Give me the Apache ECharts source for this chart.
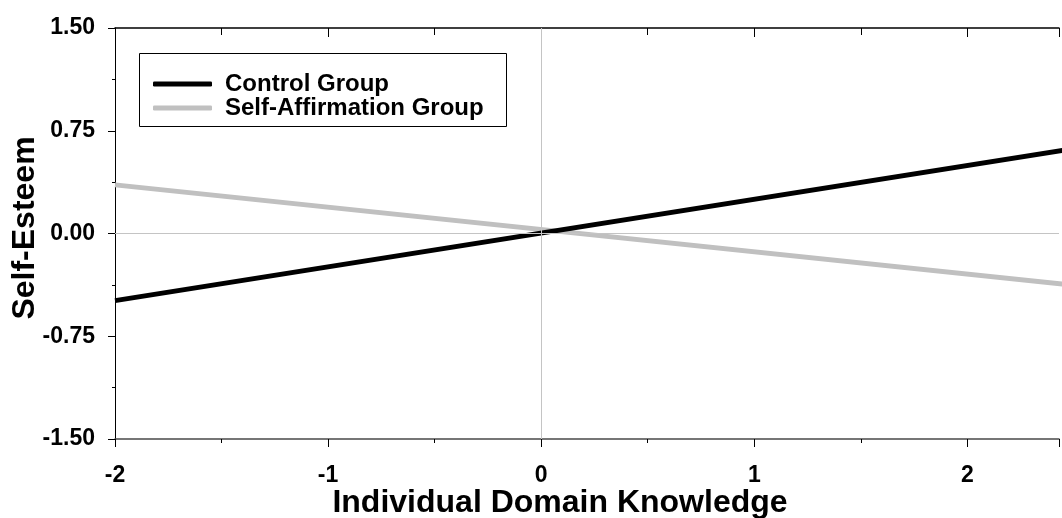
<!DOCTYPE html>
<html>
<head>
<meta charset="utf-8">
<title>Self-Esteem by Individual Domain Knowledge</title>
<script src="https://cdn.jsdelivr.net/npm/echarts@6/dist/echarts.min.js"></script>
<style>
  html, body { margin: 0; padding: 0; background: #fff; }
  #chart { width: 1062px; height: 518px; }
</style>
</head>
<body>
<div id="chart"></div>
<script>
// Simple-slope endpoints (predictor at -2 and +2.5)
const knowledge = [-2, 2.5];
const controlGroup = [-0.49, 0.62];
const selfAffirmationGroup = [0.355, -0.378];
const seriesNames = ['Control Group', 'Self-Affirmation Group'];
const xAxisTitle = 'Individual Domain Knowledge';
const yAxisTitle = 'Self-Esteem';

const FONT = '"Liberation Sans", Arial, Helvetica, sans-serif';
const X_MIN = -2;
const X_MAX = 2.43; // visible right edge of the plotting area

function pairs(xs, ys) {
  return xs.map((x, i) => [x, ys[i]]);
}

const chart = echarts.init(document.getElementById('chart'), null, { renderer: 'canvas' });

chart.setOption({
  animation: false,
  backgroundColor: '#fff',
  textStyle: { fontFamily: FONT },
  grid: { left: 115, top: 28, right: 0, bottom: 79, containLabel: false },
  xAxis: [
    {
      type: 'value', position: 'bottom', min: X_MIN, max: X_MAX, interval: 1,
      axisLine: { show: true, onZero: false, lineStyle: { color: '#4a4a4a', width: 1.5 } },
      axisTick: { show: true, inside: false, length: 8, lineStyle: { color: '#000', width: 1 } },
      minorTick: { show: true, splitNumber: 2, length: 4, lineStyle: { color: '#000', width: 1 } },
      axisLabel: {
        margin: 25, color: '#000', fontSize: 23, fontWeight: 'bold', fontFamily: FONT,
        formatter: v => (Number.isInteger(v) ? String(v) : '')
      },
      splitLine: { show: false }
    },
    {
      type: 'value', position: 'top', min: X_MIN, max: X_MAX, interval: 1,
      axisLine: { show: true, onZero: false, lineStyle: { color: '#000', width: 1.5 } },
      axisTick: { show: true, inside: true, length: 9, lineStyle: { color: '#000', width: 1 } },
      minorTick: { show: true, splitNumber: 2, length: 7, lineStyle: { color: '#000', width: 1 } },
      axisLabel: { show: false },
      splitLine: { show: false }
    }
  ],
  yAxis: {
    type: 'value', min: -1.5, max: 1.5, interval: 0.75,
    axisLine: { show: true, onZero: false, lineStyle: { color: '#000', width: 1 } },
    axisTick: { show: true, inside: false, length: 7, lineStyle: { color: '#000', width: 1 } },
    minorTick: { show: true, splitNumber: 2, length: 3, lineStyle: { color: '#000', width: 1 } },
    axisLabel: {
      margin: 20, color: '#000', fontSize: 23, fontWeight: 'bold', fontFamily: FONT,
      formatter: v => v.toFixed(2)
    },
    splitLine: { show: false }
  },
  legend: {
    data: seriesNames.map(name => ({ name, icon: 'roundRect' })),
    orient: 'vertical',
    left: 153, top: 72,
    padding: 0,
    itemGap: 0,
    itemWidth: 59,
    itemHeight: 5,
    selectedMode: false,
    textStyle: {
      color: '#000', fontSize: 24, fontWeight: 'bold', fontFamily: FONT,
      lineHeight: 23, padding: [0, 0, 0, 8]
    }
  },
  graphic: [
    {
      type: 'rect', left: 139, top: 53, z: 10, silent: true,
      shape: { width: 367, height: 73 },
      style: { fill: 'rgba(255,255,255,0)', stroke: '#000', lineWidth: 1 }
    },
    {
      type: 'text', x: 560, y: 503, z: 10, silent: true,
      style: {
        text: xAxisTitle, fill: '#000', font: 'bold 32px ' + FONT,
        align: 'center', verticalAlign: 'middle'
      }
    },
    {
      type: 'text', x: 25, y: 228, rotation: Math.PI / 2, z: 10, silent: true,
      style: {
        text: yAxisTitle, fill: '#000', font: 'bold 32px ' + FONT,
        align: 'center', verticalAlign: 'middle'
      }
    }
  ],
  series: [
    {
      // zero reference lines, kept underneath the slopes
      type: 'line', name: 'reference', data: [], z: 1, silent: true,
      markLine: {
        silent: true, symbol: 'none', label: { show: false },
        lineStyle: { color: '#c4c4c4', width: 1, type: 'solid' },
        data: [{ xAxis: 0 }, { yAxis: 0 }]
      }
    },
    {
      name: seriesNames[0], type: 'line', z: 3,
      data: pairs(knowledge, controlGroup),
      showSymbol: false, symbol: 'none',
      lineStyle: { color: '#000', width: 5 },
      itemStyle: { color: '#000' }
    },
    {
      name: seriesNames[1], type: 'line', z: 2,
      data: pairs(knowledge, selfAffirmationGroup),
      showSymbol: false, symbol: 'none',
      lineStyle: { color: '#c0c0c0', width: 5 },
      itemStyle: { color: '#c0c0c0' }
    }
  ]
});
</script>
</body>
</html>
